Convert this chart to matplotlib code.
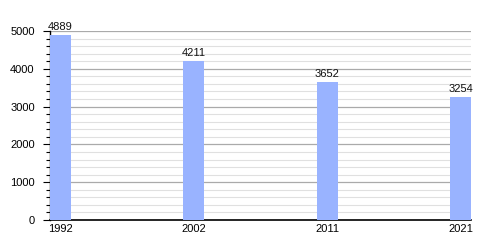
import matplotlib
matplotlib.use("Agg")
import matplotlib.pyplot as plt
from matplotlib.ticker import MultipleLocator

years = ["1992", "2002", "2011", "2021"]
values = [4889, 4211, 3652, 3254]
yticks = [0, 1000, 2000, 3000, 4000, 5000]

plt.rcParams['font.family'] = ['Liberation Sans', 'DejaVu Sans']

fig = plt.figure(figsize=(5, 2.5), dpi=100)
ax = fig.add_axes([0.1, 0.12, 0.842, 0.756])

w = 0.158
x = list(range(len(years)))
bars = ax.bar(x, values, width=w, color="#99b3ff", zorder=3)
for xi, v in zip(x, values):
    ax.annotate(str(v), (xi, v), xytext=(0, 2), textcoords="offset points",
                ha="center", va="bottom", fontsize=8, color="#111111", zorder=4)

ax.set_xlim(-w / 2, len(years) - 1 + w / 2)
ax.set_ylim(0, 5000)
ax.set_xticks(x)
ax.set_xticklabels(years, fontsize=8)
ax.set_yticks(yticks)
ax.set_yticklabels([str(t) for t in yticks], fontsize=8)
ax.yaxis.set_minor_locator(MultipleLocator(200))
ax.grid(axis="y", which="major", color="#aaaaaa", linewidth=0.9, zorder=1)
ax.grid(axis="y", which="minor", color="#e0e0e0", linewidth=0.8, zorder=1)
ax.tick_params(axis="x", length=0, pad=3)
ax.tick_params(axis="y", which="major", length=5, width=0.8, pad=6)
ax.tick_params(axis="y", which="minor", length=3, width=0.8)
for s in ["top", "right"]:
    ax.spines[s].set_visible(False)
ax.spines["left"].set_linewidth(1.0)
ax.spines["bottom"].set_linewidth(1.2)
ax.set_axisbelow(True)

fig.savefig("out.png", dpi=100)
